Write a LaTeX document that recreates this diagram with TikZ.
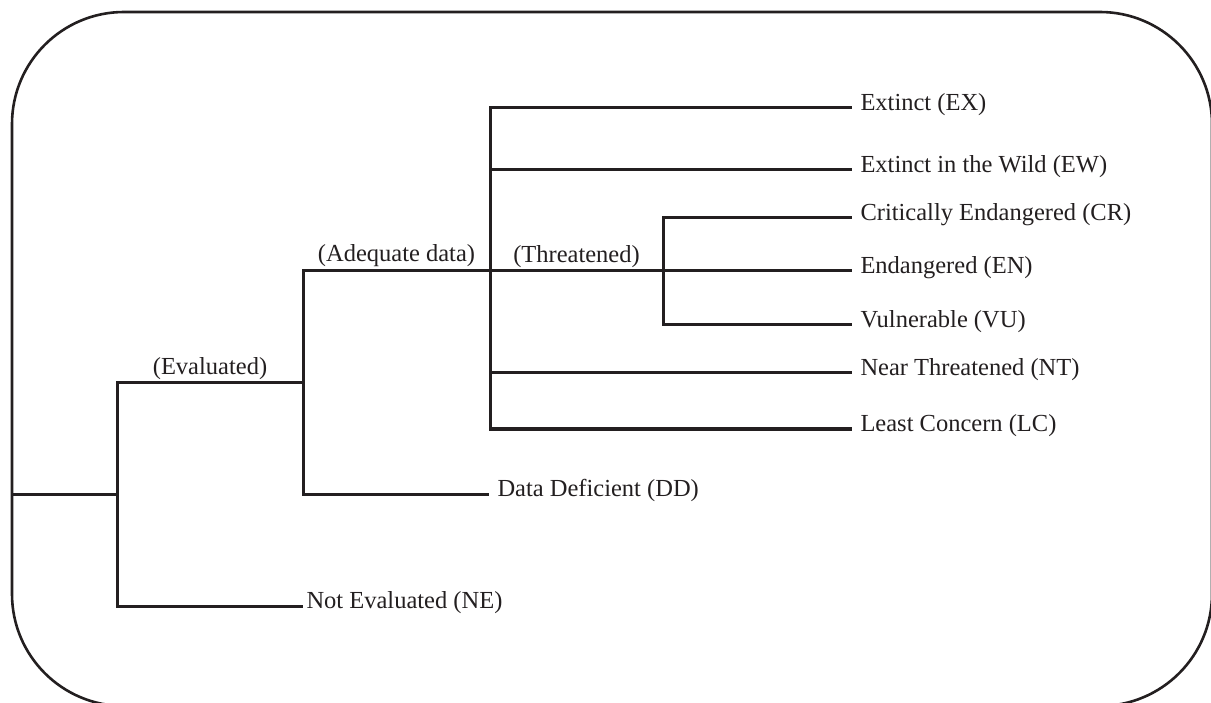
\documentclass[tikz,border=0pt]{standalone}
\usepackage{fontspec}
\setmainfont{Liberation Serif}
\usepackage{tikz}
\definecolor{ink}{HTML}{231F20}

\begin{document}
\begin{tikzpicture}[x = 1pt, y = -1pt, line width = 3pt, color = ink,
                    font = \fontsize{24.5}{29}\selectfont,
                    leaf/.style = {anchor = west, inner ysep = 0pt, inner xsep = 7pt, text height = 0.58em, text depth = 0pt},
                    branch/.style = {anchor = base, inner sep = 0pt, yshift = 8pt}]
      \useasboundingbox (0, 0) rectangle (1211, 703);
      \draw [line width = 2.6pt, rounded corners = 112pt] (12, 12) rectangle (1212, 706);

      \coordinate (R0) at (12, 494);
      \coordinate (R1) at (117, 494);
      \coordinate (R2) at (303, 383);
      \coordinate (R3) at (490, 271);
      \coordinate (R4) at (663, 271);

      \node [leaf] (EX) at (852, 108) {Extinct (EX)};
      \node [leaf] (EW) at (852, 170) {Extinct in the Wild (EW)};
      \node [leaf] (CR) at (852, 218) {Critically Endangered (CR)};
      \node [leaf] (EN) at (852, 271) {Endangered (EN)};
      \node [leaf] (VU) at (852, 325) {Vulnerable (VU)};
      \node [leaf] (NT) at (852, 373) {Near Threatened (NT)};
      \node [leaf] (LC) at (852, 429) {Least Concern (LC)};
      \node [leaf] (DD) at (489, 494) {Data Deficient (DD)};
      \node [leaf, inner xsep = 2pt] (NE) at (303, 606) {Not Evaluated (NE)};

      \draw (R0) -- (R1);
      \draw (R1) |- (R2) node [branch, pos = 0.75] (Lev) {(Evaluated)};
      \draw (R1) |- (NE.west);
      \draw (R2) |- (R3) node [branch, pos = 0.75, yshift = 1pt] (Lad) {(Adequate data)};
      \draw (R2) |- (DD.west);
      \draw (R3) |- (EX.west);
      \draw (R3) |- (EW.west);
      \draw (R3) -- (R4) node [branch, midway] (Lth) {(Threatened)};
      \draw (R3) |- (NT.west);
      \draw (R3) |- (LC.west);
      \draw (R4) |- (CR.west);
      \draw (R4) -- (EN.west);
      \draw (R4) |- (VU.west);
\end{tikzpicture}
\end{document}
